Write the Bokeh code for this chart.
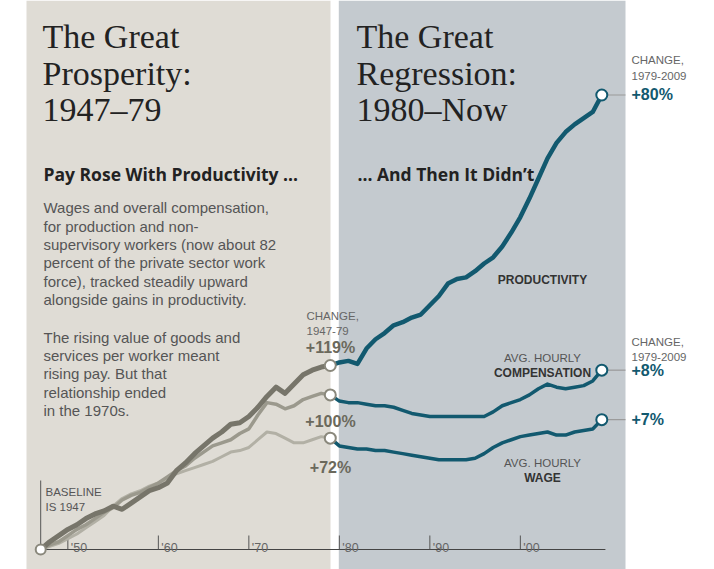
from bokeh.plotting import figure
from bokeh.models import Range1d
from bokeh.core.properties import value
from bokeh.embed import file_html
from bokeh.resources import INLINE

# ---------------- data (percent change since 1947) ----------------
years_early = list(range(1947, 1980))
productivity_early = [0, 5, 9, 13, 16, 20, 23, 25, 28, 26, 30, 34, 38, 40, 43, 51, 56, 62, 67, 72,
                      76, 81, 82, 86, 92, 99, 105, 101, 107, 113, 116, 118, 119]
compensation_early = [0, 3, 5, 9, 13, 16, 20, 24, 27, 32, 35, 37, 40, 43, 47, 51, 54, 59, 63, 67,
                      69, 71, 75, 78, 87, 95, 94, 91, 93, 97, 99, 101, 100]
wage_early = [0, 2, 4, 7, 10, 14, 18, 22, 28, 33, 36, 38, 41, 43, 46, 49, 51, 53, 55, 57,
              60, 63, 64, 66, 71, 76, 75, 72, 69, 69, 71, 73, 72]

years_late = list(range(1979, 2010))
productivity_late = [119, 121, 122, 120, 130, 136, 140, 145, 147, 150, 152, 158, 164, 172, 175, 176,
                     180, 185, 189, 196, 205, 215, 227, 240, 253, 263, 270, 275, 279, 283, 294]
compensation_late = [100, 96, 95, 95, 94, 93, 93, 92, 90, 88, 87, 86, 86, 86, 86, 86,
                     86, 86, 89, 93, 95, 97, 100, 104, 107, 105, 104, 105, 106, 109, 116]
wage_late = [72, 67, 66, 65, 65, 64, 64, 63, 62, 61, 60, 59, 58, 58, 58, 58,
             59, 62, 66, 69, 71, 73, 74, 75, 76, 74, 74, 76, 77, 78, 84]

tick_years = [1950, 1960, 1970, 1980, 1990, 2000]
tick_labels = ["'50", "'60", "'70", "'80", "'90", "'00"]

change_early_labels = ["+119%", "+100%", "+72%"]
change_late_labels = ["+80%", "+8%", "+7%"]

# ---------------- layout ----------------
W, H = 714, 569
OX, OY = 0, 0
PX_YEAR = 9.05
X1947 = 40.2               # page x of 1947
Y0 = 549.0                 # page y of 0 %
PX_PCT = 1.546

x_start = 1947 - (X1947 - OX) / PX_YEAR
x_end = x_start + W / PX_YEAR
y_start = -(OY + H - Y0) / PX_PCT
y_end = y_start + H / PX_PCT


def X(px):
    return x_start + (px - OX) / PX_YEAR


def Y(py):
    return y_start + (OY + H - py) / PX_PCT


BEIGE = "#dfdcd5"
BLUEGRAY = "#c4cacf"
TEAL = "#12596f"
PROD_G = "#77756a"
COMP_G = "#9b998d"
WAGE_G = "#b2b0a5"
DARK = "#222222"
OLIVE = "#6b695c"
SANS = "Liberation Sans"
SERIF = "Liberation Serif"
HEAVY = "Open Sans"

p = figure(width=W, height=H, x_range=Range1d(x_start, x_end), y_range=Range1d(y_start, y_end),
           output_backend="svg", toolbar_location=None, min_border=0,
           x_axis_location=None, y_axis_location=None,
           outline_line_color=None, background_fill_color="white", border_fill_color="white")
p.grid.visible = False

# era panels
p.quad(left=[X(26)], right=[X(330)], bottom=[y_start], top=[y_end], color=BEIGE, line_color=None)
p.quad(left=[X(338.3)], right=[X(625)], bottom=[y_start], top=[y_end], color=BLUEGRAY, line_color=None)


def txt(px, py, s, size, color, bold=False, align="left", font=SANS, baseline="alphabetic"):
    p.text(x=[X(px)], y=[Y(py)], text=[s], text_font=value(font), text_font_size=size,
           text_font_style="bold" if bold else "normal", text_color=color,
           text_align=align, text_baseline=baseline)


# titles
for i, s in enumerate(["The Great", "Prosperity:", "1947\u201379"]):
    txt(42, 36 + 36.6 * i, s, "34px", DARK, font=SERIF)
for i, s in enumerate(["The Great", "Regression:", "1980\u2013Now"]):
    txt(356, 36 + 36.6 * i, s, "34px", DARK, font=SERIF)

txt(43, 173, "Pay Rose With Productivity ...", "17.5px", DARK, bold=True, font=HEAVY)
txt(357, 173, "... And Then It Didn\u2019t", "17.5px", DARK, bold=True, font=HEAVY)

para1 = ["Wages and overall compensation,", "for production and non-",
         "supervisory workers (now about 82", "percent of the private sector work",
         "force), tracked steadily upward", "alongside gains in productivity."]
para2 = ["The rising value of goods and", "services per worker meant",
         "rising pay. But that", "relationship ended", "in the 1970s."]
for i, s in enumerate(para1):
    txt(43, 207.3 + 18.35 * i, s, "15px", "#555555")
for i, s in enumerate(para2):
    txt(43, 336.7 + 18.35 * i, s, "15px", "#555555")

# axis and ticks
p.line([years_early[0], years_late[-1] + 0.4], [0, 0], line_color="#444444", line_width=1)
tick_top = Y(535)
p.segment(x0=tick_years, x1=tick_years, y0=[0] * len(tick_years), y1=[tick_top] * len(tick_years),
          line_color="#555555", line_width=1)
p.text(x=[t + 3 / PX_YEAR for t in tick_years], y=[Y(547.5)] * len(tick_years), text=tick_labels,
       text_font=value(SANS), text_font_size="12.5px", text_color="#666666",
       text_align="left", text_baseline="alphabetic")

# baseline marker
p.segment(x0=[years_early[0]], x1=[years_early[0]], y0=[0], y1=[Y(480)], line_color="#555555", line_width=1)
txt(45, 491, "BASELINE", "11.5px", "#555555")
txt(45, 506, "IS 1947", "11.5px", "#555555")

# early lines
p.line(years_early, wage_early, line_color=WAGE_G, line_width=3, line_join="round")
p.line(years_early, compensation_early, line_color=COMP_G, line_width=3.5, line_join="round")
p.line(years_early, productivity_early, line_color=PROD_G, line_width=5, line_join="round")

# late lines
p.line(years_late, wage_late, line_color=TEAL, line_width=3.5, line_join="round")
p.line(years_late, compensation_late, line_color=TEAL, line_width=3.5, line_join="round")
p.line(years_late, productivity_late, line_color=TEAL, line_width=4.5, line_join="round")

# connectors on the right
ends = [productivity_late[-1], compensation_late[-1], wage_late[-1]]
p.segment(x0=[X(607)] * 3, x1=[X(625)] * 3, y0=ends, y1=ends, line_color="#999999", line_width=1.2)

# circles
p.scatter(x=[years_early[0]], y=[0], size=10, fill_color="white", line_color="#8a887c", line_width=2)
starts = [productivity_early[-1], compensation_early[-1], wage_early[-1]]
p.scatter(x=[years_early[-1]] * 3, y=starts, size=11, fill_color="white", line_color="#8a887c", line_width=2)
p.scatter(x=[years_late[-1]] * 3, y=ends, size=11, fill_color="white", line_color=TEAL, line_width=2)

# left change labels
txt(306, 315, "CHANGE,", "11.5px", "#666666")
txt(306, 330, "1947-79", "11.5px", "#666666")
for s, py in zip(change_early_labels, [347, 421, 467]):
    txt(330, py, s, "16px", OLIVE, bold=True, align="center")

# right change labels
txt(631, 59, "CHANGE,", "11.5px", "#666666")
txt(631, 75, "1979-2009", "11.5px", "#666666")
txt(631, 341, "CHANGE,", "11.5px", "#666666")
txt(631, 356, "1979-2009", "11.5px", "#666666")
for s, v in zip(change_late_labels, ends):
    p.text(x=[X(631)], y=[v], text=[s], text_font=value(SANS), text_font_size="16px",
           text_font_style="bold", text_color=TEAL, text_align="left", text_baseline="middle")

# series labels
txt(542, 279, "PRODUCTIVITY", "12px", "#333333", bold=True, align="center")
txt(542, 357, "AVG. HOURLY", "11.5px", "#555555", align="center")
txt(542, 372, "COMPENSATION", "12px", "#333333", bold=True, align="center")
txt(542, 462, "AVG. HOURLY", "11.5px", "#555555", align="center")
txt(542, 477, "WAGE", "12px", "#333333", bold=True, align="center")

open("out.html", "w").write(file_html(p, INLINE))
